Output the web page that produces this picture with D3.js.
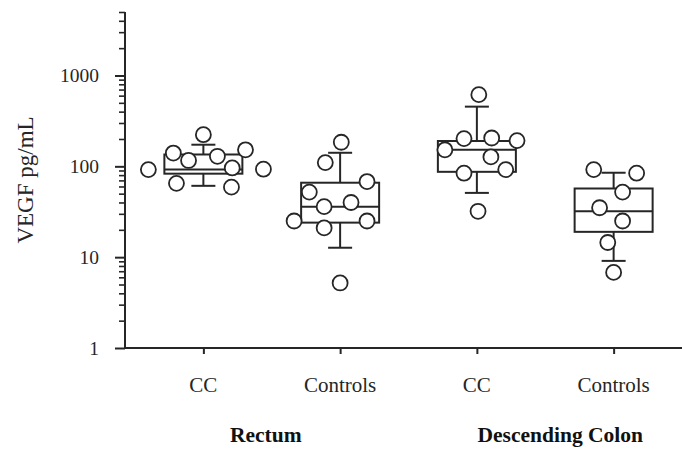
<!DOCTYPE html>
<html>
<head>
<meta charset="utf-8">
<script src="https://cdn.jsdelivr.net/npm/d3@7"></script>
<style>
  body { margin: 0; background: #fff; }
  svg { display: block; font-family: "Liberation Serif", "Times New Roman", serif; }
</style>
</head>
<body>
<svg width="682" height="450"></svg>
<script>
// groups along the x axis
const categories = ["CC", "Controls", "CC", "Controls"];
const regions = ["Rectum", "Descending Colon"];
const yTickValues = [1, 10, 100, 1000];

// individual VEGF values (pg/mL) per group
const rectumCC = [223, 140, 116, 129, 152, 92, 93, 96, 65, 59];
const rectumControls = [184, 110, 68, 52, 36, 40, 25, 21, 25, 5.2];
const colonCC = [615, 202, 205, 192, 152, 127, 84, 92, 32];
const colonControls = [92, 84, 52, 35, 25, 14.5, 6.8];

// box statistics per group
const whiskerLow = [61, 12.7, 51, 9.1];
const q1 = [83, 24, 87, 19];
const median = [92, 36, 152, 32];
const q3 = [135, 66, 190, 57];
const whiskerHigh = [173, 141, 454, 85];

const groups = [rectumCC, rectumControls, colonCC, colonControls];

// horizontal scatter of the dots, in units of box half-width
const jitter = [
  [0, -0.77, -0.38, 0.36, 1.08, -1.41, 1.54, 0.74, -0.69, 0.72],
  [0.03, -0.38, 0.69, -0.79, -0.41, 0.28, -1.18, -0.41, 0.69, 0],
  [0.05, -0.33, 0.38, 1.03, -0.82, 0.36, -0.33, 0.74, 0.03],
  [-0.51, 0.59, 0.23, -0.36, 0.23, -0.15, 0]
];

const svg = d3.select("svg"),
  ink = "#262626",
  boxHalf = 39,
  capHalf = 12;

const x = d3.scalePoint().domain(d3.range(categories.length)).range([135, 682]).padding(0.5);
const y = d3.scaleLog().domain([1, 5000]).range([348, 12]);

// y axis: minor ticks, then major ticks with labels
svg.append("g")
  .attr("transform", "translate(125,0)")
  .call(d3.axisLeft(y).tickValues(y.ticks().filter((d) => !yTickValues.includes(d))).tickSize(6).tickFormat(""))
  .call((g) => g.select(".domain").remove())
  .call((g) => g.selectAll("line").attr("stroke", ink).attr("stroke-width", 1.6));

svg.append("g")
  .attr("transform", "translate(125,0)")
  .call(d3.axisLeft(y).tickValues(yTickValues).tickSize(10).tickPadding(16).tickFormat(d3.format("d")))
  .call((g) => g.select(".domain").remove())
  .call((g) => g.selectAll("line").attr("stroke", ink).attr("stroke-width", 2))
  .call((g) => g.selectAll("text")
    .attr("fill", ink)
    .style("font-family", "'Liberation Serif', serif")
    .style("font-size", "19.5px"));

svg.append("line")
  .attr("x1", 125).attr("x2", 125)
  .attr("y1", y(5000)).attr("y2", y(1))
  .attr("stroke", ink).attr("stroke-width", 2);

// x axis
svg.append("g")
  .attr("transform", "translate(0,348)")
  .call(d3.axisBottom(x).tickSize(6).tickFormat(""))
  .call((g) => g.select(".domain").remove())
  .call((g) => g.selectAll("line").attr("stroke", ink).attr("stroke-width", 2));

svg.append("line")
  .attr("x1", 125).attr("x2", 682)
  .attr("y1", 348).attr("y2", 348)
  .attr("stroke", ink).attr("stroke-width", 2);

svg.selectAll(".catLabel")
  .data(categories)
  .enter()
  .append("text")
  .attr("class", "catLabel")
  .attr("x", (d, i) => x(i))
  .attr("y", 392)
  .attr("text-anchor", "middle")
  .attr("fill", ink)
  .style("font-size", "21px")
  .text((d) => d);

svg.selectAll(".regionLabel")
  .data(regions)
  .enter()
  .append("text")
  .attr("class", "regionLabel")
  .attr("x", (d, i) => (x(i * 2) + x(i * 2 + 1)) / 2 + (i ? 15 : -6))
  .attr("y", 442)
  .attr("text-anchor", "middle")
  .attr("fill", "#111")
  .style("font-size", "21.5px")
  .style("font-weight", "bold")
  .text((d) => d);

svg.append("text")
  .attr("transform", "translate(33,180) rotate(-90)")
  .attr("text-anchor", "middle")
  .attr("fill", ink)
  .style("font-size", "23px")
  .text("VEGF pg/mL");

// boxes and whiskers
const box = svg.append("g")
  .selectAll("g")
  .data(categories)
  .enter()
  .append("g")
  .attr("fill", "none")
  .attr("stroke", ink)
  .attr("stroke-width", 2);

box.append("rect")
  .attr("x", (d, i) => x(i) - boxHalf)
  .attr("width", boxHalf * 2)
  .attr("y", (d, i) => y(q3[i]))
  .attr("height", (d, i) => y(q1[i]) - y(q3[i]));

box.append("line")
  .attr("x1", (d, i) => x(i) - boxHalf)
  .attr("x2", (d, i) => x(i) + boxHalf)
  .attr("y1", (d, i) => y(median[i]))
  .attr("y2", (d, i) => y(median[i]));

box.append("line")
  .attr("x1", (d, i) => x(i)).attr("x2", (d, i) => x(i))
  .attr("y1", (d, i) => y(q3[i]))
  .attr("y2", (d, i) => y(whiskerHigh[i]));

box.append("line")
  .attr("x1", (d, i) => x(i)).attr("x2", (d, i) => x(i))
  .attr("y1", (d, i) => y(q1[i]))
  .attr("y2", (d, i) => y(whiskerLow[i]));

box.append("line")
  .attr("x1", (d, i) => x(i) - capHalf)
  .attr("x2", (d, i) => x(i) + capHalf)
  .attr("y1", (d, i) => y(whiskerHigh[i]))
  .attr("y2", (d, i) => y(whiskerHigh[i]));

box.append("line")
  .attr("x1", (d, i) => x(i) - capHalf)
  .attr("x2", (d, i) => x(i) + capHalf)
  .attr("y1", (d, i) => y(whiskerLow[i]))
  .attr("y2", (d, i) => y(whiskerLow[i]));

// dots
const dots = groups.flatMap((vals, gi) =>
  vals.map((v, j) => ({ g: gi, v: v, dx: jitter[gi][j] }))
);

svg.append("g")
  .selectAll("circle")
  .data(dots)
  .enter()
  .append("circle")
  .attr("cx", (d) => x(d.g) + d.dx * boxHalf)
  .attr("cy", (d) => y(d.v))
  .attr("r", 7.5)
  .style("fill", "#fff")
  .style("stroke", ink)
  .style("stroke-width", 1.8);
</script>
</body>
</html>
